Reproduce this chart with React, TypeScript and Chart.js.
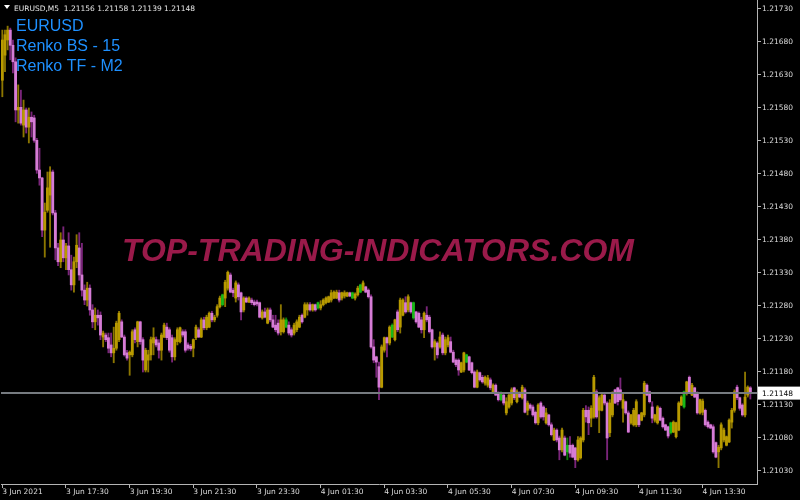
import React, { useEffect, useRef } from "react";
import { Chart, registerables } from "chart.js";

Chart.register(...registerables);

// ---------- data ----------
const SYMBOL_HEADER = "EURUSD,M5";
const OVERLAY_LINES = ["EURUSD", "Renko BS - 15", "Renko TF - M2"];
const WATERMARK = "TOP-TRADING-INDICATORS.COM";
const BID = 1.21148;
const Y_MIN = 1.210103;
const Y_MAX = 1.217436;
const PRICE_TICKS = [
  1.2173, 1.2168, 1.2163, 1.2158, 1.2153, 1.2148, 1.2143, 1.2138,
  1.2133, 1.2128, 1.2123, 1.2118, 1.2113, 1.2108, 1.2103,
];
const TIME_LABELS = [
  "3 Jun 2021", "3 Jun 17:30", "3 Jun 19:30", "3 Jun 21:30", "3 Jun 23:30",
  "4 Jun 01:30", "4 Jun 03:30", "4 Jun 05:30", "4 Jun 07:30", "4 Jun 09:30",
  "4 Jun 11:30", "4 Jun 13:30",
];
const BARS_PER_TIME_LABEL = 24;
const EMPTY_SLOTS = 2;
const GREEN_BARS = [83, 107, 119, 132, 135, 147, 155, 175, 188, 213, 252, 257];

const OPEN = [
1.21622,1.21660,1.21683,1.21698,1.21675,1.21650,1.21577,1.21581,1.21554,1.21577,
1.21551,1.21566,1.21565,1.21531,1.21486,1.21474,1.21395,1.21425,1.21448,1.21483,
1.21421,1.21368,1.21347,1.21380,1.21353,1.21371,1.21335,1.21312,1.21347,1.21368,
1.21327,1.21304,1.21289,1.21307,1.21274,1.21256,1.21266,1.21266,1.21233,1.21236,
1.21232,1.21221,1.21209,1.21216,1.21229,1.21256,1.21233,1.21209,1.21206,1.21206,
1.21244,1.21226,1.21256,1.21229,1.21183,1.21198,1.21206,1.21224,1.21229,1.21224,
1.21213,1.21233,1.21248,1.21244,1.21232,1.21203,1.21226,1.21226,1.21241,1.21241,
1.21221,1.21219,1.21216,1.21232,1.21244,1.21233,1.21259,1.21247,1.21248,1.21269,
1.21259,1.21266,1.21279,1.21282,1.21292,1.21307,1.21327,1.21304,1.21292,1.21312,
1.21300,1.21274,1.21292,1.21286,1.21289,1.21286,1.21286,1.21285,1.21262,1.21271,
1.21254,1.21274,1.21259,1.21251,1.21254,1.21241,1.21241,1.21248,1.21251,1.21244,
1.21239,1.21244,1.21248,1.21266,1.21263,1.21274,1.21282,1.21274,1.21282,1.21277,
1.21277,1.21282,1.21285,1.21286,1.21289,1.21292,1.21292,1.21300,1.21292,1.21295,
1.21295,1.21300,1.21292,1.21292,1.21297,1.21301,1.21304,1.21309,1.21304,1.21294,
1.21218,1.21203,1.21188,1.21157,1.21213,1.21232,1.21224,1.21233,1.21229,1.21271,
1.21248,1.21266,1.21285,1.21274,1.21285,1.21262,1.21271,1.21269,1.21259,1.21244,
1.21266,1.21263,1.21244,1.21218,1.21224,1.21218,1.21236,1.21209,1.21221,1.21226,
1.21210,1.21198,1.21198,1.21180,1.21183,1.21195,1.21203,1.21194,1.21180,1.21157,
1.21179,1.21172,1.21163,1.21160,1.21168,1.21150,1.21160,1.21148,1.21138,1.21145,
1.21118,1.21127,1.21133,1.21156,1.21135,1.21148,1.21141,1.21153,1.21122,1.21130,
1.21127,1.21119,1.21103,1.21133,1.21127,1.21103,1.21115,1.21100,1.21077,1.21092,
1.21080,1.21062,1.21080,1.21059,1.21069,1.21069,1.21065,1.21047,1.21050,1.21077,
1.21122,1.21122,1.21110,1.21112,1.21150,1.21122,1.21122,1.21145,1.21133,1.21088,
1.21115,1.21153,1.21156,1.21153,1.21125,1.21135,1.21118,1.21103,1.21100,1.21100,
1.21115,1.21107,1.21115,1.21160,1.21150,1.21127,1.21107,1.21103,1.21125,1.21110,
1.21100,1.21097,1.21088,1.21089,1.21082,1.21092,1.21130,1.21127,1.21148,1.21172,
1.21145,1.21156,1.21148,1.21118,1.21119,1.21122,1.21104,1.21100,1.21097,1.21073,
1.21059,1.21065,1.21077,1.21069,1.21074,1.21104,1.21122,1.21157,1.21141,1.21130,
1.21115,1.21145,1.21156,
];

const HIGH = [
1.21698,1.21698,1.21704,1.21701,1.21683,1.21656,1.21615,1.21607,1.21592,1.21580,
1.21580,1.21574,1.21569,1.21534,1.21519,1.21475,1.21436,1.21483,1.21491,1.21486,
1.21425,1.21375,1.21391,1.21400,1.21375,1.21391,1.21357,1.21354,1.21388,1.21391,
1.21375,1.21312,1.21316,1.21312,1.21282,1.21277,1.21274,1.21271,1.21242,1.21239,
1.21239,1.21239,1.21248,1.21257,1.21272,1.21259,1.21236,1.21213,1.21212,1.21244,
1.21247,1.21257,1.21257,1.21232,1.21216,1.21213,1.21233,1.21247,1.21233,1.21229,
1.21239,1.21254,1.21254,1.21247,1.21236,1.21232,1.21247,1.21248,1.21244,1.21244,
1.21224,1.21222,1.21230,1.21251,1.21247,1.21262,1.21263,1.21266,1.21271,1.21272,
1.21266,1.21282,1.21295,1.21298,1.21319,1.21333,1.21330,1.21307,1.21318,1.21315,
1.21301,1.21294,1.21294,1.21294,1.21292,1.21289,1.21289,1.21286,1.21274,1.21277,
1.21277,1.21277,1.21266,1.21266,1.21259,1.21282,1.21262,1.21262,1.21256,1.21247,
1.21254,1.21259,1.21266,1.21268,1.21285,1.21285,1.21285,1.21283,1.21283,1.21286,
1.21288,1.21291,1.21294,1.21295,1.21304,1.21303,1.21304,1.21304,1.21301,1.21303,
1.21301,1.21301,1.21301,1.21300,1.21310,1.21313,1.21318,1.21310,1.21306,1.21297,
1.21229,1.21204,1.21195,1.21221,1.21233,1.21233,1.21250,1.21253,1.21260,1.21274,
1.21292,1.21291,1.21294,1.21297,1.21286,1.21286,1.21272,1.21271,1.21263,1.21271,
1.21279,1.21266,1.21245,1.21229,1.21226,1.21241,1.21239,1.21233,1.21236,1.21233,
1.21213,1.21200,1.21200,1.21195,1.21210,1.21207,1.21204,1.21195,1.21182,1.21183,
1.21180,1.21175,1.21174,1.21175,1.21171,1.21162,1.21162,1.21150,1.21150,1.21148,
1.21141,1.21148,1.21156,1.21157,1.21153,1.21150,1.21160,1.21156,1.21136,1.21132,
1.21130,1.21121,1.21132,1.21135,1.21129,1.21125,1.21116,1.21103,1.21095,1.21094,
1.21083,1.21095,1.21083,1.21080,1.21082,1.21071,1.21066,1.21082,1.21082,1.21125,
1.21129,1.21127,1.21129,1.21175,1.21153,1.21144,1.21148,1.21148,1.21135,1.21138,
1.21150,1.21154,1.21157,1.21171,1.21148,1.21136,1.21121,1.21116,1.21125,1.21138,
1.21116,1.21119,1.21166,1.21162,1.21151,1.21135,1.21116,1.21129,1.21127,1.21112,
1.21101,1.21098,1.21104,1.21106,1.21104,1.21135,1.21144,1.21151,1.21166,1.21174,
1.21163,1.21157,1.21150,1.21139,1.21139,1.21124,1.21106,1.21101,1.21100,1.21074,
1.21069,1.21103,1.21095,1.21083,1.21109,1.21125,1.21153,1.21160,1.21142,1.21132,
1.21180,1.21159,1.21158,
];

const LOW = [
1.21597,1.21635,1.21668,1.21653,1.21633,1.21559,1.21557,1.21554,1.21536,1.21542,
1.21527,1.21536,1.21528,1.21481,1.21463,1.21385,1.21354,1.21422,1.21369,1.21418,
1.21350,1.21341,1.21338,1.21347,1.21335,1.21327,1.21304,1.21301,1.21338,1.21319,
1.21295,1.21282,1.21280,1.21266,1.21247,1.21244,1.21251,1.21229,1.21218,1.21226,
1.21209,1.21203,1.21194,1.21213,1.21226,1.21232,1.21204,1.21198,1.21175,1.21203,
1.21224,1.21218,1.21222,1.21180,1.21180,1.21180,1.21198,1.21206,1.21218,1.21201,
1.21198,1.21232,1.21229,1.21210,1.21195,1.21198,1.21221,1.21224,1.21233,1.21210,
1.21213,1.21212,1.21203,1.21229,1.21232,1.21232,1.21244,1.21244,1.21247,1.21256,
1.21256,1.21263,1.21277,1.21280,1.21279,1.21304,1.21300,1.21294,1.21286,1.21289,
1.21259,1.21271,1.21285,1.21285,1.21282,1.21280,1.21280,1.21262,1.21260,1.21262,
1.21253,1.21256,1.21247,1.21241,1.21236,1.21236,1.21239,1.21247,1.21236,1.21233,
1.21236,1.21241,1.21247,1.21254,1.21262,1.21266,1.21272,1.21272,1.21272,1.21275,
1.21274,1.21280,1.21283,1.21285,1.21286,1.21291,1.21291,1.21286,1.21289,1.21292,
1.21294,1.21294,1.21291,1.21289,1.21295,1.21300,1.21303,1.21300,1.21292,1.21216,
1.21194,1.21172,1.21138,1.21156,1.21210,1.21203,1.21221,1.21232,1.21227,1.21241,
1.21239,1.21265,1.21269,1.21271,1.21269,1.21260,1.21254,1.21247,1.21239,1.21232,
1.21256,1.21239,1.21216,1.21198,1.21201,1.21216,1.21206,1.21206,1.21218,1.21209,
1.21194,1.21188,1.21175,1.21179,1.21180,1.21194,1.21182,1.21177,1.21156,1.21156,
1.21166,1.21163,1.21160,1.21157,1.21153,1.21148,1.21144,1.21136,1.21136,1.21130,
1.21115,1.21125,1.21130,1.21138,1.21133,1.21141,1.21139,1.21118,1.21115,1.21122,
1.21113,1.21101,1.21100,1.21110,1.21107,1.21101,1.21098,1.21083,1.21076,1.21074,
1.21047,1.21059,1.21053,1.21047,1.21051,1.21050,1.21035,1.21045,1.21048,1.21074,
1.21104,1.21085,1.21097,1.21110,1.21110,1.21088,1.21121,1.21130,1.21047,1.21082,
1.21112,1.21132,1.21130,1.21136,1.21104,1.21116,1.21088,1.21101,1.21098,1.21097,
1.21097,1.21106,1.21112,1.21144,1.21133,1.21103,1.21104,1.21101,1.21106,1.21095,
1.21091,1.21080,1.21086,1.21088,1.21080,1.21091,1.21129,1.21125,1.21145,1.21148,
1.21144,1.21141,1.21116,1.21116,1.21115,1.21098,1.21095,1.21094,1.21057,1.21050,
1.21035,1.21062,1.21074,1.21068,1.21073,1.21095,1.21119,1.21138,1.21122,1.21113,
1.21112,1.21142,1.21139,
];

const CLOSE = [
1.21683,1.21691,1.21698,1.21675,1.21650,1.21577,1.21581,1.21557,1.21577,1.21551,
1.21566,1.21559,1.21531,1.21486,1.21474,1.21395,1.21422,1.21459,1.21483,1.21421,
1.21368,1.21347,1.21380,1.21353,1.21371,1.21335,1.21312,1.21347,1.21372,1.21327,
1.21304,1.21289,1.21307,1.21274,1.21256,1.21266,1.21262,1.21236,1.21239,1.21229,
1.21216,1.21209,1.21216,1.21254,1.21269,1.21233,1.21206,1.21201,1.21210,1.21241,
1.21229,1.21256,1.21226,1.21198,1.21213,1.21206,1.21229,1.21232,1.21221,1.21213,
1.21236,1.21251,1.21232,1.21213,1.21203,1.21229,1.21244,1.21247,1.21236,1.21213,
1.21216,1.21215,1.21229,1.21248,1.21233,1.21259,1.21247,1.21263,1.21269,1.21259,
1.21263,1.21279,1.21292,1.21297,1.21316,1.21331,1.21301,1.21300,1.21315,1.21294,
1.21271,1.21292,1.21286,1.21292,1.21285,1.21282,1.21283,1.21263,1.21271,1.21263,
1.21274,1.21259,1.21248,1.21244,1.21239,1.21259,1.21259,1.21259,1.21239,1.21236,
1.21251,1.21256,1.21263,1.21256,1.21282,1.21282,1.21274,1.21282,1.21274,1.21285,
1.21282,1.21289,1.21292,1.21294,1.21300,1.21301,1.21301,1.21289,1.21300,1.21300,
1.21300,1.21295,1.21300,1.21298,1.21307,1.21312,1.21315,1.21301,1.21294,1.21218,
1.21198,1.21195,1.21157,1.21218,1.21232,1.21224,1.21248,1.21251,1.21259,1.21244,
1.21289,1.21289,1.21271,1.21294,1.21271,1.21285,1.21256,1.21248,1.21244,1.21269,
1.21259,1.21241,1.21218,1.21226,1.21206,1.21233,1.21209,1.21229,1.21232,1.21210,
1.21195,1.21191,1.21183,1.21194,1.21209,1.21206,1.21183,1.21179,1.21157,1.21180,
1.21168,1.21165,1.21172,1.21171,1.21156,1.21160,1.21145,1.21138,1.21148,1.21133,
1.21135,1.21145,1.21153,1.21141,1.21150,1.21142,1.21157,1.21119,1.21133,1.21125,
1.21115,1.21103,1.21130,1.21112,1.21112,1.21118,1.21100,1.21085,1.21092,1.21077,
1.21062,1.21092,1.21054,1.21069,1.21057,1.21051,1.21047,1.21077,1.21080,1.21122,
1.21112,1.21103,1.21125,1.21172,1.21112,1.21141,1.21145,1.21133,1.21080,1.21133,
1.21148,1.21133,1.21135,1.21138,1.21138,1.21118,1.21089,1.21115,1.21122,1.21135,
1.21100,1.21118,1.21163,1.21145,1.21135,1.21110,1.21115,1.21127,1.21107,1.21097,
1.21092,1.21083,1.21103,1.21104,1.21103,1.21133,1.21142,1.21150,1.21165,1.21150,
1.21160,1.21142,1.21118,1.21138,1.21136,1.21100,1.21097,1.21095,1.21059,1.21051,
1.21066,1.21100,1.21092,1.21082,1.21107,1.21122,1.21150,1.21141,1.21125,1.21115,
1.21142,1.21157,1.21148,
];

// ---------- styles ----------
const UP_BODY = "#b89a00";
const UP_WICK = "#8c7600";
const DOWN_BODY = "#d67cd6";
const DOWN_WICK = "#7a257a";
const GREEN_BODY = "#18b818";
const GREEN_WICK = "#0c7a0c";
const AXIS_COLOR = "#b4b4b4";
const TEXT_COLOR = "#dcdcdc";
const SMALL_FONT = "'DejaVu Sans', Verdana, sans-serif";

const fmt = (v: number) => v.toFixed(5);

export default function App() {
  const canvasRef = useRef<HTMLCanvasElement | null>(null);

  useEffect(() => {
    const canvas = canvasRef.current;
    if (!canvas) return;
    const n = OPEN.length;
    const labels = Array.from({ length: n + EMPTY_SLOTS }, (_, i) => String(i));
    const kinds = OPEN.map((o, i) =>
      GREEN_BARS.includes(i) ? "g" : CLOSE[i] >= o ? "u" : "d"
    );
    const bodyColors = kinds.map((k) => (k === "g" ? GREEN_BODY : k === "u" ? UP_BODY : DOWN_BODY));
    const wickColors = kinds.map((k) => (k === "g" ? GREEN_WICK : k === "u" ? UP_WICK : DOWN_WICK));
    const bodyData = OPEN.map((o, i) => [Math.min(o, CLOSE[i]), Math.max(o, CLOSE[i])]);
    const wickData = OPEN.map((_, i) => [LOW[i], HIGH[i]]);
    const last = n - 1;
    const headerText = `${SYMBOL_HEADER}  ${fmt(OPEN[last])} ${fmt(HIGH[last])} ${fmt(LOW[last])} ${fmt(CLOSE[last])}`;

    const backdrop = {
      id: "backdrop",
      beforeDraw(chart: any) {
        const { ctx, width, height } = chart;
        ctx.save();
        ctx.fillStyle = "#000000";
        ctx.fillRect(0, 0, width, height);
        ctx.restore();
      },
    };

    const watermark = {
      id: "watermark",
      beforeDatasetsDraw(chart: any) {
        const { ctx, chartArea } = chart;
        ctx.save();
        ctx.font = "italic bold 32px 'Liberation Sans', Arial, sans-serif";
        ctx.fillStyle = "#9a1a4a";
        ctx.textAlign = "center";
        ctx.textBaseline = "alphabetic";
        ctx.fillText(WATERMARK, (chartArea.left + chartArea.right) / 2 - 1, chartArea.top + 261);
        ctx.restore();
      },
    };

    const overlay = {
      id: "overlay",
      afterDatasetsDraw(chart: any) {
        const { ctx, chartArea, scales } = chart;
        const y = scales.y.getPixelForValue(BID);
        ctx.save();
        ctx.strokeStyle = "#767b80";
        ctx.lineWidth = 2;
        ctx.beginPath();
        ctx.moveTo(chartArea.left, y);
        ctx.lineTo(chartArea.right, y);
        ctx.stroke();
        ctx.restore();
      },
      afterDraw(chart: any) {
        const { ctx, chartArea, scales, width } = chart;
        ctx.save();
        // bid price label
        const y = scales.y.getPixelForValue(BID);
        ctx.fillStyle = "#ffffff";
        ctx.fillRect(chartArea.right + 1, y - 6.5, width - chartArea.right - 1, 13);
        ctx.fillStyle = "#000000";
        ctx.font = `7.5px ${SMALL_FONT}`;
        ctx.textAlign = "left";
        ctx.textBaseline = "middle";
        ctx.fillText(fmt(BID), chartArea.right + 5, y + 0.5);
        // header
        ctx.fillStyle = "#ffffff";
        ctx.beginPath();
        ctx.moveTo(chartArea.left + 3, 5);
        ctx.lineTo(chartArea.left + 9, 5);
        ctx.lineTo(chartArea.left + 6, 9);
        ctx.closePath();
        ctx.fill();
        ctx.fillStyle = "#e6e6e6";
        ctx.textBaseline = "alphabetic";
        ctx.fillText(headerText, chartArea.left + 13, 11);
        // blue overlay texts
        ctx.font = "16px 'Liberation Sans', Arial, sans-serif";
        ctx.fillStyle = "#1e90ff";
        OVERLAY_LINES.forEach((t, i) => {
          ctx.fillText(t, chartArea.left + 15, 31 + i * 20);
        });
        ctx.restore();
      },
    };

    const chart = new Chart(canvas, {
      type: "bar",
      data: {
        labels,
        datasets: [
          {
            label: "body",
            data: bodyData as any,
            backgroundColor: bodyColors,
            borderWidth: 0,
            barThickness: 2.2,
            minBarLength: 1,
            grouped: false,
            order: 0,
          } as any,
          {
            label: "wick",
            data: wickData as any,
            backgroundColor: wickColors,
            borderWidth: 0,
            barThickness: 1.2,
            grouped: false,
            order: 1,
          } as any,
        ],
      },
      options: {
        responsive: false,
        maintainAspectRatio: false,
        animation: false,
        events: [],
        layout: { padding: { left: 1, top: 0, right: 0, bottom: 0 } },
        plugins: {
          legend: { display: false },
          tooltip: { enabled: false },
          title: { display: false },
        },
        scales: {
          x: {
            type: "category",
            offset: true,
            grid: {
              display: true,
              drawOnChartArea: false,
              drawTicks: true,
              tickLength: 4,
              color: AXIS_COLOR,
              offset: false,
            },
            border: { display: true, color: AXIS_COLOR, width: 1 },
            ticks: {
              autoSkip: false,
              maxRotation: 0,
              minRotation: 0,
              align: "start",
              padding: 0,
              color: TEXT_COLOR,
              font: { family: SMALL_FONT, size: 7.5 },
              callback: (value: any) => {
                const i = Number(value);
                return i % BARS_PER_TIME_LABEL === 0
                  ? TIME_LABELS[i / BARS_PER_TIME_LABEL] ?? ""
                  : "";
              },
            },
            afterBuildTicks: (scale: any) => {
              scale.ticks = scale.ticks.filter(
                (t: any) =>
                  t.value % BARS_PER_TIME_LABEL === 0 &&
                  t.value / BARS_PER_TIME_LABEL < TIME_LABELS.length
              );
            },
            afterFit: (scale: any) => {
              scale.height = 16;
              scale.paddingLeft = 0;
              scale.paddingRight = 0;
            },
          } as any,
          y: {
            type: "linear",
            position: "right",
            min: Y_MIN,
            max: Y_MAX,
            grid: {
              display: true,
              drawOnChartArea: false,
              drawTicks: true,
              tickLength: 4,
              color: AXIS_COLOR,
            },
            border: { display: true, color: AXIS_COLOR, width: 1 },
            ticks: {
              padding: 1,
              color: TEXT_COLOR,
              font: { family: SMALL_FONT, size: 7.5 },
              callback: (v: any) => Number(v).toFixed(5),
            },
            afterBuildTicks: (scale: any) => {
              scale.ticks = PRICE_TICKS.map((v) => ({ value: v }));
            },
            afterFit: (scale: any) => {
              scale.width = 43;
              scale.paddingTop = 0;
              scale.paddingBottom = 0;
            },
          } as any,
        },
      },
      plugins: [backdrop, watermark, overlay],
    });

    return () => chart.destroy();
  }, []);

  return (
    <div
      style={{
        position: "fixed",
        left: 0,
        top: 0,
        width: 800,
        height: 500,
        background: "#000000",
      }}
    >
      <canvas ref={canvasRef} width={800} height={500} style={{ display: "block" }} />
    </div>
  );
}
